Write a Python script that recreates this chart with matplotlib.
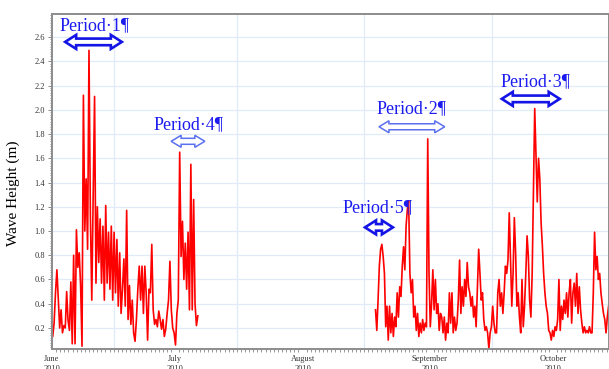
import matplotlib
matplotlib.use("Agg")
import matplotlib.pyplot as plt
import matplotlib.dates as mdates
from matplotlib.patches import Polygon
from matplotlib.transforms import IdentityTransform
from matplotlib.ticker import MultipleLocator, FormatStrFormatter
import numpy as np
import pandas as pd

plt.rcParams['font.family'] = ['Liberation Serif', 'DejaVu Serif']

start = pd.Timestamp('2010-06-01')

# wave height (m), first record block: early June -> early July
seg1_days = (0.17, 35.5)
seg1_hs = [0.13, 0.24, 0.49, 0.68, 0.44, 0.2, 0.35, 0.16, 0.22, 0.2, 0.5, 0.26, 0.18, 0.58,
           0.07, 0.8, 0.07, 1.01, 0.7, 0.82, 0.55, 0.05, 2.12, 1.0, 1.43, 0.85, 2.49, 1.13,
           0.43, 1.29, 2.11, 0.57, 1.2, 0.74, 1.1, 0.57, 1.04, 0.43, 1.21, 0.57, 0.99, 0.52,
           1.04, 0.43, 0.99, 0.49, 0.93, 0.38, 0.82, 0.32, 0.52, 0.77, 0.38, 1.17, 0.27, 0.55,
           0.23, 0.43, 0.16, 0.09, 0.27, 0.52, 0.71, 0.43, 0.71, 0.32, 0.71, 0.49, 0.1, 0.52,
           0.49, 0.89, 0.35, 0.23, 0.27, 0.21, 0.34, 0.27, 0.19, 0.27, 0.13, 0.19, 0.32, 0.43,
           0.75, 0.35, 0.2, 0.16, 0.06, 0.32, 0.43, 1.65, 0.79, 1.08, 0.6, 0.9, 0.52, 0.99,
           0.35, 1.55, 0.35, 1.26, 0.4, 0.22, 0.3]

# second record block: mid August -> mid October
seg2_days = (78.76, 135.5)
seg2_hs = [0.35, 0.18, 0.43, 0.71, 0.85, 0.89, 0.79, 0.65, 0.21, 0.38,
           0.1, 0.38, 0.16, 0.32, 0.13, 0.29, 0.21, 0.49, 0.29, 0.54,
           0.46, 0.71, 0.87, 0.68, 1.04, 1.18, 1.25, 0.65, 0.49, 0.6,
           0.29, 0.38, 0.18, 0.32, 0.13, 0.24, 0.16, 0.27, 0.18, 0.24,
           0.21, 1.76, 0.65, 0.21, 0.4, 0.68, 0.35, 0.6, 0.32, 0.4,
           0.18, 0.32, 0.29, 0.16, 0.29, 0.1, 0.24, 0.16, 0.49,
           0.24, 0.49, 0.16, 0.29, 0.18, 0.24, 0.43, 0.76, 0.32, 0.54,
           0.38, 0.6, 0.46, 0.74, 0.54, 0.49, 0.38, 0.46, 0.29, 0.38,
           0.21, 0.52, 0.85, 0.65, 0.43, 0.49, 0.27, 0.18, 0.21, 0.16,
           0.03, 0.16, 0.21, 0.38, 0.24, 0.16, 0.16, 0.49, 0.6, 0.38,
           0.49, 0.32, 0.49, 0.71, 0.65, 0.76, 1.15, 0.76, 0.38, 0.65,
           1.11, 0.82, 0.38, 0.49, 0.29, 0.16, 0.6, 0.21, 0.38, 0.65, 0.96,
           0.79, 0.43, 0.29, 0.65, 1.35, 2.01, 1.62, 1.24, 1.6, 1.43,
           1.07, 0.88, 0.65, 0.49, 0.38, 0.32, 0.18, 0.16, 0.1, 0.18,
           0.13, 0.21, 0.18, 0.27, 0.6, 0.18, 0.38, 0.27, 0.43, 0.32,
           0.49, 0.29, 0.49, 0.6, 0.24, 0.49, 0.57, 0.38, 0.65, 0.32,
           0.54, 0.35, 0.24, 0.16, 0.21, 0.16, 0.18, 0.16, 0.21, 0.16,
           0.16, 0.49, 0.99, 0.68, 0.79, 0.6, 0.65, 0.49, 0.4, 0.32,
           0.27, 0.16, 0.29, 0.38]

# annotated periods: label, text anchor (day, m), arrow span (days), arrow level (m), bold edge
periods = ['Period\u00b71\u00b6', 'Period\u00b74\u00b6', 'Period\u00b75\u00b6',
           'Period\u00b72\u00b6', 'Period\u00b73\u00b6']
text_pos = [(1.9, 2.69), (24.6, 1.88), (70.8, 1.19), (79.1, 2.01), (109.2, 2.23)]
arrow_span = [(3.2, 17.0), (29.0, 37.2), (76.2, 83.0), (79.6, 95.6), (109.5, 123.6)]
arrow_y = [2.56, 1.74, 1.03, 1.86, 2.09]
arrow_bold = [True, False, True, False, True]


def to_date(d):
    return start + pd.to_timedelta(d, unit='D')


def double_arrow(ax, x0, x1, y, bold):
    # hollow block arrow, built in pixels so the heads keep their size
    p0 = ax.transData.transform((mdates.date2num(x0), y))
    p1 = ax.transData.transform((mdates.date2num(x1), y))
    hl, hw, tw = 11.0, 7.0, 3.3
    if not bold:
        hl, hw, tw = 10.0, 6.0, 3.0
    xa, xb, yc = p0[0], p1[0], p0[1]
    verts = [(xa, yc), (xa + hl, yc + hw), (xa + hl, yc + tw), (xb - hl, yc + tw),
             (xb - hl, yc + hw), (xb, yc), (xb - hl, yc - hw), (xb - hl, yc - tw),
             (xa + hl, yc - tw), (xa + hl, yc - hw)]
    poly = Polygon(verts, closed=True, transform=IdentityTransform(),
                   facecolor='white', edgecolor='#1414e6' if bold else '#5a70f0',
                   lw=1.9 if bold else 1.1, joinstyle='miter', zorder=5)
    ax.add_artist(poly)


fig = plt.figure(figsize=(6.09, 3.69), dpi=100)
ax = fig.add_axes([0.0854, 0.054, 0.9146, 0.908])

for days, hs in [(seg1_days, seg1_hs), (seg2_days, seg2_hs)]:
    t = to_date(np.linspace(days[0], days[1], len(hs)))
    ax.plot(t, hs, color='#ff0000', lw=1.2)

ax.set_xlim(to_date(0), to_date(135.6))
ax.set_ylim(0.026, 2.79)

ax.yaxis.set_major_locator(MultipleLocator(0.2))
ax.yaxis.set_minor_locator(MultipleLocator(0.02))
ax.yaxis.set_major_formatter(FormatStrFormatter('%.1f'))
ax.xaxis.set_major_locator(mdates.MonthLocator())
ax.xaxis.set_major_formatter(mdates.DateFormatter('%B\n%Y'))
ax.xaxis.set_minor_locator(mdates.DayLocator())

ax.tick_params(axis='both', which='major', labelsize=6, length=3, color='#888888',
               labelcolor='#333333', width=0.7)
ax.tick_params(axis='both', which='minor', length=1.8, color='#888888', width=0.6)
ax.tick_params(axis='x', which='major', pad=4.5, length=0)
ax.tick_params(axis='y', which='major', pad=2)

ax.grid(axis='y', which='major', color='#e1ebf8', lw=0.9)
for m in range(6, 11):
    ax.axvline(pd.Timestamp(2010, m, 16), color='#e1ebf8', lw=0.9, zorder=0)

for s in ax.spines.values():
    s.set_color('#8c8c8c')
    s.set_linewidth(1.4)

ax.set_ylabel('Wave Height (m)', fontsize=11)
ax.yaxis.set_label_coords(-0.058, 0.465)

for lab, tp, span, ay, bold in zip(periods, text_pos, arrow_span, arrow_y, arrow_bold):
    ax.text(to_date(tp[0]), tp[1], lab, color='#1c1cf0', fontsize=13,
            ha='left', va='center')
    double_arrow(ax, to_date(span[0]), to_date(span[1]), ay, bold)

fig.savefig('out.png', dpi=100)
